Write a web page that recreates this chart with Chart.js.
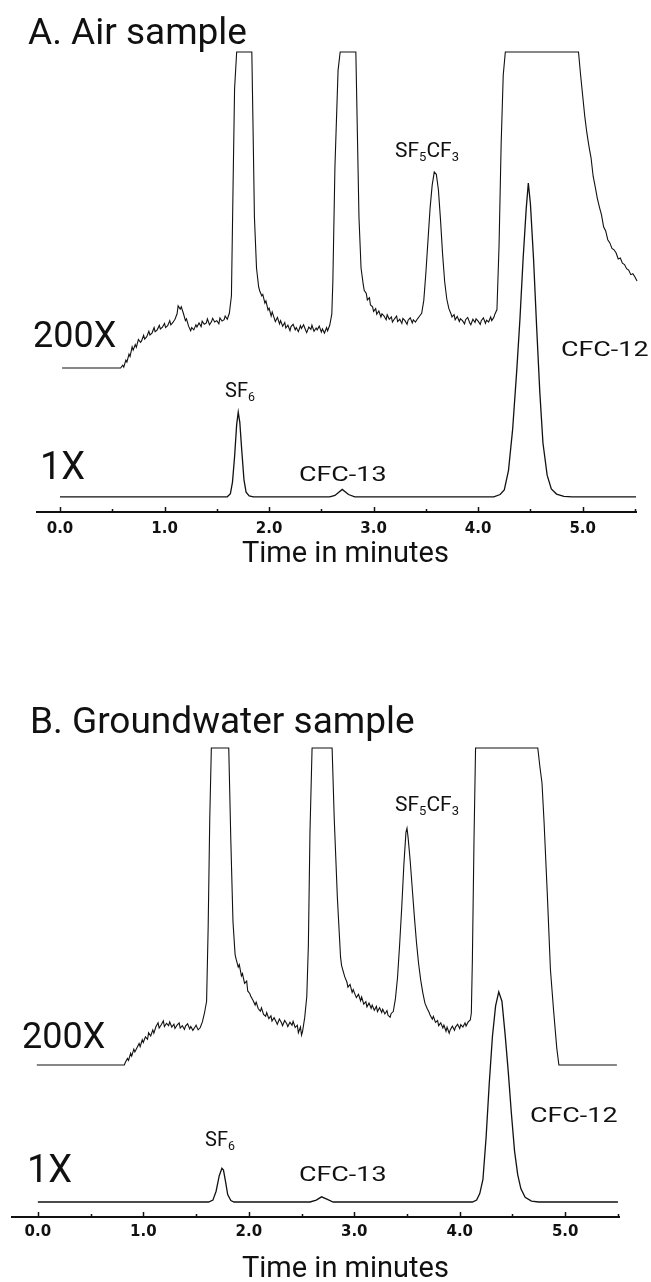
<!DOCTYPE html>
<html><head><meta charset="utf-8">
<script src="https://cdn.jsdelivr.net/npm/chart.js@4.4.1/dist/chart.umd.min.js"></script>
<style>
html,body{margin:0;padding:0;background:#fff;}
#page{position:relative;width:651px;height:1282px;overflow:hidden;background:#fff;}
canvas{position:absolute;left:0;}
.lbl{position:absolute;font-family:Roboto,'Open Sans',sans-serif;color:#111;line-height:1;white-space:nowrap;transform-origin:0 0;}
.lbl sub{font-size:0.62em;vertical-align:-0.32em;line-height:0;}
</style></head><body>
<div id="page">
<canvas id="chartA" width="651" height="580" style="top:0;width:651px;height:580px"></canvas>
<canvas id="chartB" width="651" height="642" style="top:640px;width:651px;height:642px"></canvas>
</div>
<script>
// ---------- data (time in minutes, relative detector response) ----------
const tickValues = [0,0.5,1,1.5,2,2.5,3,3.5,4,4.5,5,5.5];
const panelTitles = ['A. Air sample','B. Groundwater sample'];
const traceLabels = ['200X','1X'];
const peakNames = ['SF<sub>6</sub>','CFC-13','CFC-12','SF<sub>5</sub>CF<sub>3</sub>'];
const xAxisTitle = 'Time in minutes';

const air200x = [[0.02,31.3],[0.58,31.3],[0.60,31.9],[0.61,31.5],[0.63,33.0],[0.64,32.6],[0.66,34.3],[0.67,33.8],[0.69,35.9],[0.70,35.2],[0.72,36.4],[0.73,35.8],[0.75,37.5],[0.77,36.9],[0.78,37.2],[0.80,38.4],[0.81,37.6],[0.83,38.1],[0.85,39.3],[0.86,38.5],[0.88,38.9],[0.90,40.1],[0.91,39.2],[0.93,39.6],[0.95,40.6],[0.96,39.8],[0.98,40.2],[1.00,41.0],[1.01,40.1],[1.03,40.5],[1.05,41.6],[1.06,40.7],[1.08,41.2],[1.10,41.9],[1.12,43.1],[1.13,44.8],[1.15,44.1],[1.16,44.6],[1.18,43.2],[1.20,41.6],[1.21,42.0],[1.23,40.4],[1.25,39.4],[1.26,40.1],[1.28,39.6],[1.30,40.7],[1.31,40.2],[1.33,41.1],[1.35,40.3],[1.36,41.5],[1.38,40.8],[1.40,41.1],[1.41,42.0],[1.43,40.7],[1.45,41.4],[1.46,42.1],[1.48,41.3],[1.50,41.6],[1.52,40.9],[1.53,42.2],[1.55,41.5],[1.57,41.8],[1.58,42.6],[1.60,41.9],[1.62,43.2],[1.64,47],[1.655,70],[1.67,92],[1.69,100],[1.835,100],[1.845,86],[1.86,64],[1.88,53],[1.90,49],[1.91,48.1],[1.93,47.0],[1.94,47.3],[1.96,45.4],[1.97,45.9],[1.99,43.9],[2.00,44.3],[2.02,42.6],[2.03,43.5],[2.05,42.1],[2.06,41.4],[2.08,42.3],[2.10,40.9],[2.11,41.6],[2.13,40.4],[2.15,41.2],[2.16,40.0],[2.18,40.6],[2.20,39.4],[2.21,40.3],[2.23,40.8],[2.25,39.6],[2.26,40.1],[2.28,39.2],[2.30,40.5],[2.31,39.9],[2.33,40.7],[2.35,39.5],[2.36,39.0],[2.38,40.2],[2.40,39.7],[2.41,40.6],[2.43,39.3],[2.45,40.0],[2.46,39.6],[2.48,40.4],[2.50,39.1],[2.51,39.8],[2.53,38.9],[2.55,40.1],[2.56,39.4],[2.58,40.6],[2.60,43],[2.61,50],[2.63,75],[2.66,96],[2.68,100],[2.83,100],[2.845,82],[2.86,64],[2.88,53],[2.90,49.6],[2.91,48.2],[2.93,47.5],[2.94,46.1],[2.96,46.6],[2.97,45.0],[2.99,44.6],[3.00,43.6],[3.02,44.2],[3.03,43.0],[3.05,43.7],[3.07,42.4],[3.08,43.1],[3.10,42.6],[3.12,41.8],[3.13,42.9],[3.15,41.9],[3.17,42.4],[3.18,41.3],[3.20,42.0],[3.22,42.6],[3.23,41.4],[3.25,41.9],[3.27,41.0],[3.28,42.1],[3.30,41.6],[3.32,40.8],[3.33,41.7],[3.35,42.2],[3.37,41.1],[3.38,41.8],[3.40,41.3],[3.42,42.0],[3.44,42.6],[3.46,43.2],[3.48,46],[3.50,52],[3.52,59],[3.54,66],[3.56,71],[3.58,73.9],[3.60,73.4],[3.62,70],[3.64,63.5],[3.66,56],[3.68,50],[3.70,46.3],[3.72,44.2],[3.74,43.1],[3.75,42.4],[3.77,42.9],[3.78,41.8],[3.80,42.5],[3.82,41.4],[3.83,42.0],[3.85,41.6],[3.87,40.9],[3.88,41.8],[3.90,42.3],[3.92,41.1],[3.93,40.7],[3.95,41.9],[3.97,41.2],[3.98,42.0],[4.00,41.5],[4.02,40.8],[4.03,41.6],[4.05,42.2],[4.07,41.0],[4.08,41.7],[4.10,41.3],[4.12,42.4],[4.13,41.6],[4.15,42.3],[4.16,43.0],[4.18,44],[4.20,58],[4.22,80],[4.24,95],[4.26,100],[4.96,100],[4.98,95],[5.00,90.5],[5.02,86],[5.04,82.4],[5.06,79.5],[5.08,77],[5.10,73],[5.12,70.7],[5.14,68.2],[5.16,66.3],[5.18,64.6],[5.20,62],[5.22,61.1],[5.24,59.2],[5.26,58.5],[5.28,57.3],[5.30,57.0],[5.32,56.3],[5.34,55.0],[5.36,55.2],[5.38,54.1],[5.40,53.8],[5.42,52.9],[5.44,52.6],[5.46,51.6],[5.48,51.8],[5.50,51.1],[5.52,50.2],[5.545,48.9]];

const air1x = [[0.00,3.3],[1.60,3.3],[1.63,4.0],[1.65,6.5],[1.67,12],[1.69,19],[1.705,21.7],[1.72,19.5],[1.74,13],[1.76,7],[1.78,4.3],[1.81,3.5],[1.85,3.3],[2.58,3.3],[2.63,3.6],[2.70,4.9],[2.76,3.8],[2.82,3.3],[4.15,3.3],[4.21,3.8],[4.25,4.8],[4.29,9],[4.33,18],[4.37,31],[4.40,42],[4.43,55],[4.46,66],[4.48,71.5],[4.50,67],[4.53,55],[4.56,40],[4.59,26],[4.62,15],[4.66,8],[4.70,5],[4.75,3.9],[4.82,3.4],[4.90,3.3],[5.51,3.3]];

const gw200x = [[-0.01,32.4],[0.82,32.4],[0.83,33.0],[0.85,33.8],[0.86,33.4],[0.88,34.9],[0.89,34.3],[0.91,35.8],[0.92,35.2],[0.94,36.1],[0.96,37.0],[0.97,36.3],[0.99,37.8],[1.00,37.2],[1.02,38.4],[1.04,37.9],[1.05,39.3],[1.07,38.6],[1.09,39.9],[1.10,39.2],[1.12,40.6],[1.14,41.4],[1.15,40.3],[1.17,41.0],[1.19,41.8],[1.20,40.6],[1.22,41.3],[1.24,40.8],[1.25,41.6],[1.27,40.5],[1.29,41.1],[1.30,40.2],[1.32,40.9],[1.34,41.4],[1.35,40.3],[1.37,40.8],[1.39,40.0],[1.40,40.7],[1.42,41.2],[1.44,40.1],[1.45,40.6],[1.47,39.8],[1.49,40.5],[1.50,40.9],[1.52,39.9],[1.54,40.4],[1.56,41.6],[1.58,43.5],[1.60,46],[1.615,62],[1.63,85],[1.645,100],[1.81,100],[1.83,80],[1.85,63],[1.87,56],[1.88,55.0],[1.90,53.3],[1.91,53.8],[1.93,51.4],[1.94,51.9],[1.96,49.8],[1.98,50.3],[1.99,48.2],[2.01,47.6],[2.02,47.0],[2.04,46.2],[2.06,45.2],[2.07,45.8],[2.09,44.4],[2.11,43.9],[2.12,44.6],[2.14,43.2],[2.16,42.8],[2.17,43.6],[2.19,42.3],[2.21,42.9],[2.22,41.8],[2.24,42.5],[2.26,41.6],[2.27,41.1],[2.29,42.2],[2.31,41.4],[2.32,40.8],[2.34,41.9],[2.36,41.2],[2.37,40.6],[2.39,41.5],[2.41,40.9],[2.42,41.7],[2.44,40.4],[2.46,40.9],[2.47,39.3],[2.49,40.5],[2.50,38.8],[2.51,39.6],[2.53,42.5],[2.55,47],[2.565,58],[2.58,82],[2.60,100],[2.79,100],[2.81,85],[2.84,68],[2.87,55.4],[2.88,53.6],[2.90,52.0],[2.91,51.2],[2.93,50.1],[2.94,49.0],[2.96,49.6],[2.98,47.9],[2.99,48.5],[3.01,47.3],[3.02,46.8],[3.04,47.5],[3.06,46.1],[3.07,46.9],[3.09,45.4],[3.11,45.9],[3.12,44.8],[3.14,45.6],[3.16,44.5],[3.17,45.2],[3.19,44.1],[3.21,44.9],[3.22,43.8],[3.24,44.6],[3.26,43.6],[3.27,44.3],[3.29,43.3],[3.31,44.0],[3.32,43.0],[3.34,42.6],[3.35,43.4],[3.37,43.8],[3.39,46.5],[3.41,51],[3.43,58],[3.45,66],[3.47,75],[3.49,82],[3.50,82.9],[3.51,81],[3.53,76],[3.55,70],[3.57,64],[3.59,58.5],[3.61,54],[3.63,50.5],[3.65,47.8],[3.67,45.6],[3.69,44.5],[3.71,43.6],[3.72,43.0],[3.74,42.2],[3.75,42.8],[3.77,41.5],[3.79,41.9],[3.80,40.8],[3.82,41.4],[3.84,40.3],[3.85,40.9],[3.87,39.6],[3.88,40.5],[3.90,39.2],[3.91,39.9],[3.93,40.7],[3.95,39.8],[3.96,40.5],[3.98,41.1],[4.00,40.2],[4.01,41.0],[4.03,40.5],[4.05,41.4],[4.06,40.7],[4.08,41.6],[4.10,42.0],[4.11,43.5],[4.12,55],[4.135,80],[4.15,100],[4.74,100],[4.76,96],[4.78,92.5],[4.80,84],[4.83,69],[4.86,52.7],[4.89,44],[4.92,36],[4.94,32.4],[5.49,32.4]];

const gw1x = [[0.00,3.2],[1.62,3.2],[1.66,3.6],[1.69,5.5],[1.72,8.8],[1.745,10.4],[1.76,10.0],[1.78,7.5],[1.80,4.8],[1.83,3.5],[1.86,3.2],[2.58,3.2],[2.64,3.6],[2.69,4.3],[2.74,3.8],[2.80,3.2],[4.12,3.2],[4.16,3.6],[4.19,5],[4.22,8],[4.25,17],[4.28,28.5],[4.31,38.5],[4.34,45],[4.37,48],[4.40,46],[4.43,39],[4.46,31],[4.49,22],[4.52,14],[4.55,9],[4.58,6],[4.62,4.2],[4.68,3.4],[4.75,3.2],[5.50,3.2]];

// ---------- layout / styles ----------
const INK = '#111';
const panels = [
  { canvas:'chartA', series:[air200x, air1x], xMin:-0.22, xMax:5.51,
    pad:{left:37,right:15,top:52,bottom:0}, axisH:68, tickPad:8 },
  { canvas:'chartB', series:[gw200x, gw1x], xMin:-0.245, xMax:5.51,
    pad:{left:12,right:32,top:108,bottom:0}, axisH:65, tickPad:6 }
];

const tickMarks = {
  id:'tickMarks',
  afterDraw(chart){
    const s = chart.scales.x, ctx = chart.ctx, y = s.top;
    ctx.save(); ctx.strokeStyle = INK; ctx.lineWidth = 1.5;
    s.ticks.forEach(t => {
      const px = Math.round(s.getPixelForValue(t.value)) + 0.5;
      const len = Number.isInteger(t.value) ? 5 : 3;
      ctx.beginPath(); ctx.moveTo(px, y); ctx.lineTo(px, y - len); ctx.stroke();
    });
    ctx.restore();
  }
};

panels.forEach(p => {
  new Chart(document.getElementById(p.canvas), {
    type:'line',
    data:{ datasets: p.series.map((s, i) => ({
      data: s.map(d => ({x:d[0], y:d[1]})),
      borderColor: INK, borderWidth: i === 0 ? 1.1 : 1.3, pointRadius: 0, tension: 0, fill: false, clip: 10
    }))},
    options:{
      responsive:false, animation:false,
      layout:{ padding:p.pad },
      plugins:{ legend:{display:false}, tooltip:{enabled:false} },
      scales:{
        x:{ type:'linear', min:p.xMin, max:p.xMax,
            afterBuildTicks: ax => { ax.ticks = tickValues.map(v => ({value:v})); },
            afterFit: ax => { ax.height = p.axisH; },
            ticks:{ autoSkip:false, maxRotation:0, padding:p.tickPad, color:INK,
                    font:{family:'DejaVu Sans', size:15, weight:'bold'},
                    callback: v => Number.isInteger(v) ? v.toFixed(1) : '' },
            grid:{ display:false, drawTicks:false },
            border:{ display:true, color:INK, width:2 },
            title:{ display:false } },
        y:{ display:false, min:0, max:100 }
      }
    },
    plugins:[tickMarks]
  });
});

// ---------- text labels: [html, left, top, font-size, scaleX] ----------
const labelLayout = [
  [panelTitles[0], 28, 13, 37, 1],
  [traceLabels[0], 33, 317, 36, 1],
  [traceLabels[1], 40, 447, 38, 1],
  [peakNames[0], 225, 380, 20, 1],
  [peakNames[1], 299, 464, 21, 1.28],
  [peakNames[2], 561, 339, 21, 1.28],
  [peakNames[3], 395, 140, 21, 1],
  [xAxisTitle, 242, 538, 29, 1],
  [panelTitles[1], 30, 702, 37, 1],
  [traceLabels[0], 22, 1018, 36, 1],
  [traceLabels[1], 27, 1150, 38, 1],
  [peakNames[0], 205, 1129, 20, 1],
  [peakNames[1], 299, 1164, 21, 1.28],
  [peakNames[2], 530, 1105, 21, 1.28],
  [peakNames[3], 395, 794, 21, 1],
  [xAxisTitle, 242, 1253, 29, 1]
];
const page = document.getElementById('page');
labelLayout.forEach(([html, x, y, size, sx]) => {
  const d = document.createElement('div');
  d.className = 'lbl';
  d.innerHTML = html;
  d.style.left = x + 'px'; d.style.top = y + 'px';
  d.style.fontSize = size + 'px';
  if (sx !== 1) d.style.transform = 'scaleX(' + sx + ')';
  page.appendChild(d);
});
</script>
</body></html>
